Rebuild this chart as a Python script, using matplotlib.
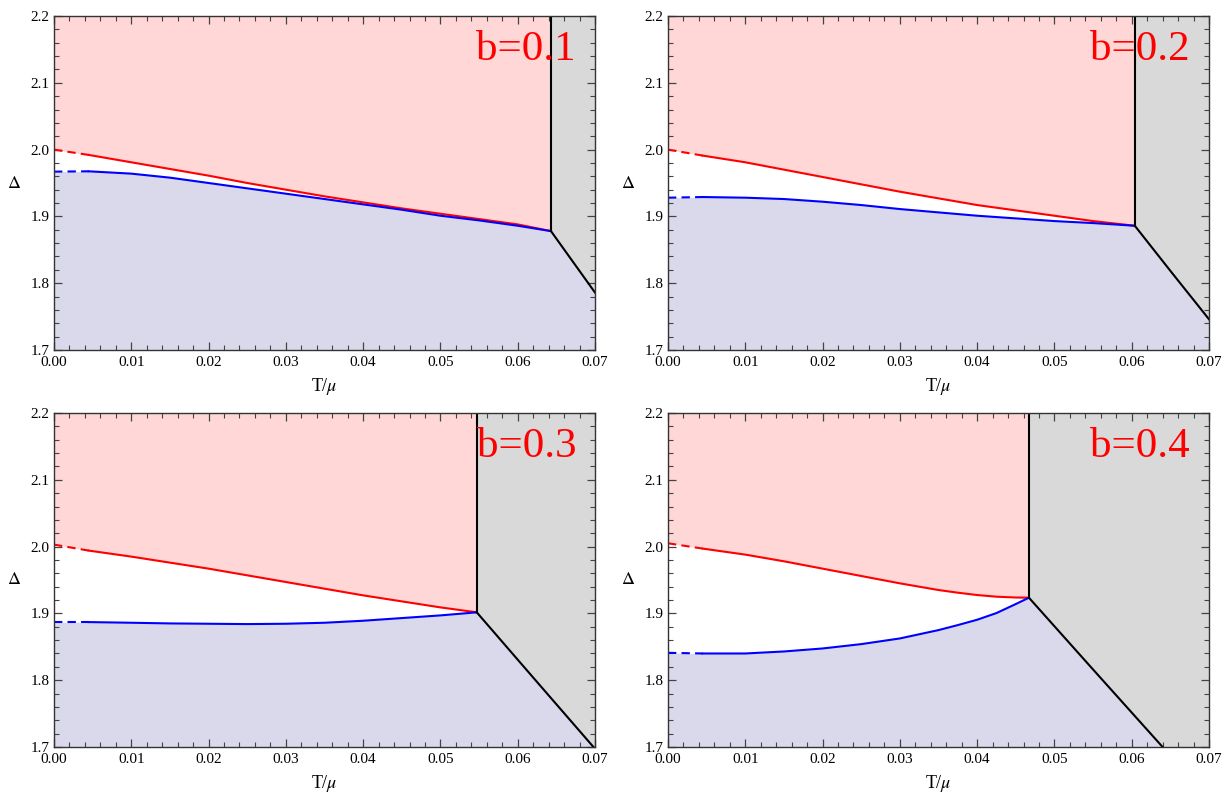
import numpy as np
import matplotlib
matplotlib.use("Agg")
import matplotlib.pyplot as plt
from matplotlib.ticker import MultipleLocator, FormatStrFormatter

plt.rcParams['font.family'] = ['Liberation Serif', 'DejaVu Serif']
plt.rcParams['mathtext.fontset'] = 'stix'

# ===================== data =====================
b_labels = ["b=0.1", "b=0.2", "b=0.3", "b=0.4"]

# b = 0.1
t_b1 = [0, 0.0045, 0.01, 0.015, 0.02, 0.025, 0.03, 0.035, 0.04, 0.045, 0.05, 0.055, 0.06, 0.0643]
red_b1 = [2.000, 1.992, 1.981, 1.971, 1.961, 1.950, 1.940, 1.930, 1.921, 1.912, 1.904, 1.896, 1.888, 1.878]
blue_b1 = [1.967, 1.9675, 1.964, 1.958, 1.950, 1.942, 1.934, 1.926, 1.918, 1.910, 1.901, 1.894, 1.886, 1.878]
black_t_b1 = [0.0643, 0.07]
black_b1 = [1.878, 1.786]

# b = 0.2
t_b2 = [0, 0.0045, 0.01, 0.015, 0.02, 0.025, 0.03, 0.035, 0.04, 0.045, 0.05, 0.055, 0.0604]
red_b2 = [2.000, 1.991, 1.981, 1.970, 1.959, 1.948, 1.937, 1.927, 1.917, 1.909, 1.901, 1.893, 1.886]
blue_b2 = [1.928, 1.929, 1.928, 1.926, 1.922, 1.917, 1.911, 1.906, 1.901, 1.897, 1.893, 1.890, 1.886]
black_t_b2 = [0.0604, 0.065, 0.07]
black_b2 = [1.886, 1.8185, 1.746]

# b = 0.3
t_b3 = [0, 0.0045, 0.01, 0.015, 0.02, 0.025, 0.03, 0.035, 0.04, 0.045, 0.05, 0.0547]
red_b3 = [2.003, 1.994, 1.985, 1.976, 1.967, 1.957, 1.947, 1.937, 1.927, 1.918, 1.909, 1.9016]
blue_b3 = [1.887, 1.887, 1.886, 1.885, 1.8845, 1.884, 1.8845, 1.886, 1.889, 1.893, 1.897, 1.9016]
black_t_b3 = [0.0547, 0.062, 0.0698]
black_b3 = [1.9016, 1.804, 1.700]

# b = 0.4
t_b4 = [0, 0.0045, 0.01, 0.015, 0.02, 0.025, 0.03, 0.035, 0.0375, 0.04, 0.0425, 0.045, 0.0467]
red_b4 = [2.005, 1.997, 1.988, 1.978, 1.967, 1.956, 1.945, 1.935, 1.931, 1.9275, 1.925, 1.9238, 1.9235]
blue_b4 = [1.841, 1.840, 1.840, 1.843, 1.8475, 1.854, 1.8625, 1.875, 1.8825, 1.8905, 1.9005, 1.914, 1.9235]
black_t_b4 = [0.0467, 0.055, 0.064]
black_b4 = [1.9235, 1.816, 1.700]

panels = [
    (t_b1, red_b1, blue_b1, black_t_b1, black_b1),
    (t_b2, red_b2, blue_b2, black_t_b2, black_b2),
    (t_b3, red_b3, blue_b3, black_t_b3, black_b3),
    (t_b4, red_b4, blue_b4, black_t_b4, black_b4),
]

# ===================== styling =====================
pink = '#FFD7D7'
lavender = '#D9D9EB'
grey = '#D9D9D9'
W, H = 1226, 794
boxes = [(54, 16), (668, 16), (54, 413), (668, 413)]
aw, ah = 541, 334
ymin, ymax = 1.7, 2.2
xmax = 0.07

fig = plt.figure(figsize=(W / 100, H / 100), dpi=100)

for (px, py), (t, red, blue, bt, bk), lab in zip(boxes, panels, b_labels):
    ax = fig.add_axes([px / W, (H - py - ah) / H, aw / W, ah / H])
    t = np.array(t); red = np.array(red); blue = np.array(blue)
    bt = np.array(bt); bk = np.array(bk)
    tc = t[-1]

    # filled regions (one polygon each, so no seams)
    ax.fill_between(t, red, ymax, color=pink, lw=0)
    low_t = np.concatenate([t, bt[1:], [xmax]])
    low_y = np.concatenate([blue, bk[1:], [ymin]])
    ax.fill_between(low_t, ymin, low_y, color=lavender, lw=0)
    ax.fill_between(np.append(bt, xmax), np.append(bk, ymin), ymax, color=grey, lw=0)

    # red / blue curves: dashed near T=0, solid afterwards
    ax.plot(t[:2], red[:2], color='red', lw=1.5, ls=(0, (4, 2.5)))
    ax.plot(t[1:], red[1:], color='red', lw=1.5)
    ax.plot(t[:2], blue[:2], color='blue', lw=1.5, ls=(0, (4, 2.5)))
    ax.plot(t[1:], blue[1:], color='blue', lw=1.5)

    # label, then the black boundaries on top of it
    ax.text(0.965, 0.868, lab, transform=ax.transAxes, color='red', fontsize=31,
            ha='right', va='baseline')
    ax.plot([tc, tc], [red[-1], ymax], color='black', lw=1.5)
    ax.plot(bt, bk, color='black', lw=1.5)

    ax.set_xlim(0, xmax)
    ax.set_ylim(ymin, ymax)
    ax.xaxis.set_major_locator(MultipleLocator(0.01))
    ax.xaxis.set_minor_locator(MultipleLocator(0.002))
    ax.yaxis.set_major_locator(MultipleLocator(0.1))
    ax.yaxis.set_minor_locator(MultipleLocator(0.02))
    ax.xaxis.set_major_formatter(FormatStrFormatter('%.2f'))
    ax.yaxis.set_major_formatter(FormatStrFormatter('%.1f'))
    ax.tick_params(which='both', direction='in', top=True, right=True,
                   color='#444444', labelsize=11)
    ax.tick_params(axis='x', pad=4.5)
    ax.tick_params(axis='y', pad=3)
    ax.tick_params(which='major', length=6, width=0.9)
    ax.tick_params(which='minor', length=3.5, width=0.8)
    for s in ax.spines.values():
        s.set_color('#333333')
        s.set_linewidth(1.0)
        s.set_zorder(5)

    ax.set_xlabel(r'T/$\mu$', fontsize=13, labelpad=5)
    ax.set_ylabel(r'$\Delta$', fontsize=13, rotation=0, labelpad=12, va='center')

fig.savefig('out.png', dpi=100)
